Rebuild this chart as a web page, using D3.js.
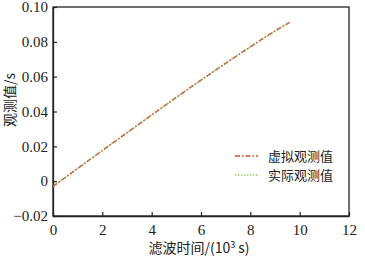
<!DOCTYPE html>
<html>
<head>
<meta charset="utf-8">
<script src="https://cdn.jsdelivr.net/npm/d3@7"></script>
<style>
  body { margin: 0; background: #fff; }
  svg text { fill: #222; }
</style>
</head>
<body>
<div id="chart"></div>
<script>
// filter time (10^3 s) and observed value (s)
const timeK = [0, 1, 2, 3, 4, 5, 6, 7, 8, 9, 9.6];
const virtualObs = [-0.003, 0.0073, 0.0176, 0.0278, 0.0380, 0.0481, 0.0580, 0.0677, 0.0771, 0.0862, 0.0912];
const actualObs = [-0.003, 0.0073, 0.0176, 0.0278, 0.0380, 0.0481, 0.0580, 0.0677, 0.0771, 0.0862, 0.0912];
const xTicks = [0, 2, 4, 6, 8, 10, 12];
const yTicks = [-0.02, 0, 0.02, 0.04, 0.06, 0.08, 0.10];
const seriesNames = ["虚拟观测值", "实际观测值"];

const W = 365, H = 265;
const margin = { top: 7, right: 16, bottom: 49, left: 53 };
const width = W - margin.left - margin.right;
const height = H - margin.top - margin.bottom;

const svg = d3.select("#chart").append("svg")
    .attr("width", W)
    .attr("height", H);

const g = svg.append("g")
    .attr("transform", `translate(${margin.left},${margin.top})`);

const x = d3.scaleLinear().domain([0, 12]).range([0, width]);
const y = d3.scaleLinear().domain([-0.02, 0.10]).range([height, 0]);

const serif = "'Liberation Serif', 'DejaVu Serif', serif";
const cjk = "'Noto Sans CJK SC', sans-serif";

// frame
g.append("rect")
    .attr("width", width)
    .attr("height", height)
    .attr("fill", "none")
    .attr("stroke", "#222")
    .attr("stroke-width", 1.3);

const xAxis = g.append("g")
    .attr("transform", `translate(0,${height})`)
    .call(d3.axisBottom(x).tickValues(xTicks).tickSizeInner(-4).tickSizeOuter(0).tickPadding(8)
        .tickFormat(d => d));
const yAxis = g.append("g")
    .call(d3.axisLeft(y).tickValues(yTicks).tickSizeInner(-4).tickSizeOuter(0).tickPadding(5)
        .tickFormat(d => d === 0 ? "0" : d3.format(".2f")(d).replace("-", "\u2212")));

[xAxis, yAxis].forEach(a => {
    a.select(".domain").attr("stroke", "#222").attr("stroke-width", 1.3);
    a.selectAll(".tick line").attr("stroke", "#222").attr("stroke-width", 1.2);
    a.selectAll(".tick text")
        .attr("fill", "#222")
        .style("font-family", serif)
        .style("font-size", "15px");
});

// lines
const line = d3.line()
    .x((d, i) => x(timeK[i]))
    .y(d => y(d))
    .curve(d3.curveMonotoneX);

g.append("path")
    .datum(actualObs)
    .attr("fill", "none")
    .attr("stroke", "#9ccc65")
    .attr("stroke-width", 1.5)
    .attr("stroke-dasharray", "1.5,1.5")
    .attr("d", line);

g.append("path")
    .datum(virtualObs)
    .attr("fill", "none")
    .attr("stroke", "#c4502f")
    .attr("stroke-width", 1.5)
    .attr("stroke-opacity", 0.85)
    .attr("stroke-dasharray", "5,2,1.5,2")
    .attr("d", line);

// legend
const legend = g.append("g")
    .attr("transform", `translate(${235 - margin.left},${156 - margin.top})`);
const legendStyles = [
    { stroke: "#c4502f", dash: "5,2,1.5,2" },
    { stroke: "#9ccc65", dash: "1.5,1.5" }
];
seriesNames.forEach((name, i) => {
    const row = legend.append("g").attr("transform", `translate(0,${i * 19})`);
    row.append("line")
        .attr("x1", 0).attr("x2", 23)
        .attr("stroke", legendStyles[i].stroke)
        .attr("stroke-width", 1.6)
        .attr("stroke-dasharray", legendStyles[i].dash);
    row.append("text")
        .attr("x", 33)
        .attr("dy", "0.35em")
        .style("font-family", cjk)
        .style("font-size", "13px")
        .text(name);
});

// axis titles
svg.append("text")
    .attr("x", margin.left + x(6) - 2)
    .attr("y", 248)
    .attr("text-anchor", "middle")
    .attr("dy", "0.35em")
    .style("font-family", cjk)
    .style("font-size", "14px")
    .html('滤波时间/(10<tspan dy="-5" font-size="9px">3</tspan><tspan dy="5"> s)</tspan>');

svg.append("text")
    .attr("transform", `translate(10,100) rotate(-90)`)
    .attr("text-anchor", "middle")
    .attr("dy", "0.35em")
    .style("font-family", cjk)
    .style("font-size", "14px")
    .text("观测值/s");
</script>
</body>
</html>
